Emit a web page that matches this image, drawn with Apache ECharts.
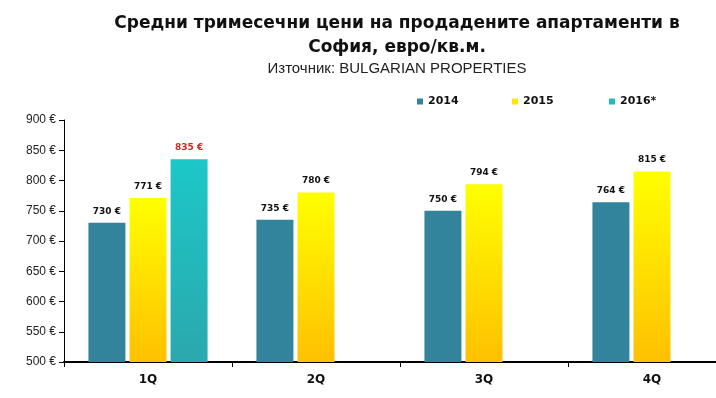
<!DOCTYPE html>
<html>
<head>
<meta charset="utf-8">
<script src="https://cdn.jsdelivr.net/npm/echarts@6/dist/echarts.min.js"></script>
<style>
  html, body { margin: 0; padding: 0; background: #fff; }
  #chart { width: 716px; height: 398px; }
</style>
</head>
<body>
<div id="chart"></div>
<script>
// квартали и средни цени (евро/кв.м.)
var quarters = ['1Q', '2Q', '3Q', '4Q']
var seriesNames = ['2014', '2015', '2016*']
var prices2014 = [730, 735, 750, 764]
var prices2015 = [771, 780, 794, 815]
var prices2016 = [835, null, null, null]
var titleLines = ['Средни тримесечни цени на продадените апартаменти в', 'София, евро/кв.м.']
var subTitle = 'Източник: BULGARIAN PROPERTIES'

var chart = echarts.init(document.getElementById('chart'))

function vgrad (top, bottom) {
  return new echarts.graphic.LinearGradient(0, 0, 0, 1, [
    { offset: 0, color: top },
    { offset: 1, color: bottom }
  ])
}

var labelStyle = {
  show: true,
  position: 'top',
  distance: 7,
  fontSize: 9,
  fontWeight: 'bold',
  fontFamily: 'DejaVu Sans',
  color: '#111',
  formatter: function (p) { return p.value + ' €' }
}

var legendColors = ['#31849b', '#ffe600', '#22bcc0']
var legendLefts = [412, 507, 604]
var legends = seriesNames.map(function (name, i) {
  return {
    top: 91,
    left: legendLefts[i],
    itemWidth: 6,
    itemHeight: 6,
    icon: 'rect',
    textStyle: {
      fontSize: 11,
      fontWeight: 'bold',
      fontFamily: 'DejaVu Sans',
      color: '#111'
    },
    data: [{ name: name, itemStyle: { color: legendColors[i] } }]
  }
})

chart.setOption({
  animation: false,
  graphic: [{
    type: 'text',
    x: 397,
    y: 12,
    style: {
      text: titleLines.join('\n'),
      align: 'center',
      font: 'bold 17px "DejaVu Sans"',
      lineHeight: 24,
      fill: '#111'
    }
  }, {
    type: 'text',
    x: 397,
    y: 61,
    style: {
      text: subTitle,
      align: 'center',
      font: '15px "Liberation Sans"',
      fill: '#222'
    }
  }],
  legend: legends,
  grid: {
    left: 64,
    right: -20,
    top: 120,
    bottom: 36,
    containLabel: false,
    outerBoundsMode: 'none'
  },
  xAxis: {
    type: 'category',
    data: quarters,
    axisLine: { lineStyle: { color: '#000', width: 2 } },
    axisTick: { show: true, length: 5, lineStyle: { color: '#000', width: 1 } },
    axisLabel: {
      fontSize: 12,
      fontWeight: 'bold',
      fontFamily: 'DejaVu Sans',
      color: '#111',
      margin: 12
    }
  },
  yAxis: {
    type: 'value',
    min: 500,
    max: 900,
    interval: 50,
    axisLine: { show: true, lineStyle: { color: '#000', width: 1 } },
    axisTick: { show: true, length: 5, lineStyle: { color: '#000' } },
    splitLine: { show: false },
    axisLabel: {
      formatter: '{value} €',
      fontSize: 12,
      fontFamily: 'Liberation Sans',
      color: '#222',
      margin: 8
    }
  },
  series: [{
    name: seriesNames[0],
    type: 'bar',
    barWidth: 37,
    barGap: '11%',
    data: prices2014,
    itemStyle: { color: '#31849b' },
    label: labelStyle
  }, {
    name: seriesNames[1],
    type: 'bar',
    barWidth: 37,
    barGap: '11%',
    data: prices2015,
    itemStyle: { color: vgrad('#ffff00', '#ffc000') },
    label: labelStyle
  }, {
    name: seriesNames[2],
    type: 'bar',
    barWidth: 37,
    barGap: '11%',
    data: prices2016,
    itemStyle: { color: vgrad('#1cc8c8', '#2ba8ad') },
    label: Object.assign({}, labelStyle, { color: '#e02020' })
  }]
})
</script>
</body>
</html>
